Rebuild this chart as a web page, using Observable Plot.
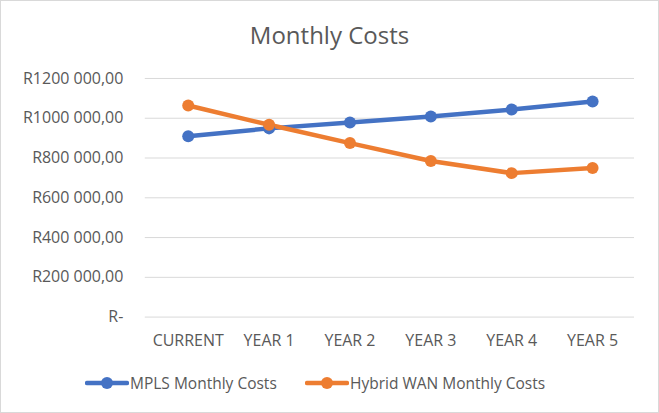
<!DOCTYPE html>
<html><head><meta charset="utf-8">
<script src="https://cdn.jsdelivr.net/npm/d3@7"></script>
<script src="https://cdn.jsdelivr.net/npm/@observablehq/plot@0.6"></script>
<style>
body{margin:0;background:#fff;}
#frame{position:relative;width:657px;height:411px;border:1px solid #d9d9d9;font-family:"Open Sans",sans-serif;color:#595959;overflow:hidden;}
#title{position:absolute;top:0;left:0;width:657px;text-align:center;font-size:24px;line-height:28px;padding-top:20px;}
#chart{position:absolute;top:61px;left:-1px;}
#legend{position:absolute;top:371px;left:0;width:657px;font-size:15.5px;}
.item{position:absolute;display:flex;align-items:center;white-space:nowrap;}
</style></head>
<body>
<div id="frame">
<div id="title">Monthly Costs</div>
<div id="chart"></div>
<div id="legend"></div>
</div>
<script>
const categories = ["CURRENT","YEAR 1","YEAR 2","YEAR 3","YEAR 4","YEAR 5"];
const mplsValues = [910000, 949000, 979000, 1009000, 1044000, 1084000];
const hybridValues = [1064000, 967000, 875000, 785000, 724000, 750000];
const seriesNames = ["MPLS Monthly Costs","Hybrid WAN Monthly Costs"];
const seriesColors = ["#4472C4","#ED7D31"];
const yTicks = [0,200000,400000,600000,800000,1000000,1200000];

const data = [];
categories.forEach((c,i)=>{
  data.push({cat:c, value:mplsValues[i], series:seriesNames[0]});
  data.push({cat:c, value:hybridValues[i], series:seriesNames[1]});
});

function fmt(v){
  if(v===0) return "R-";
  const th = Math.floor(v/1000), rest = v%1000;
  return "R" + th + " " + String(rest).padStart(3,"0") + ",00";
}

const plot = Plot.plot({
  width: 659,
  height: 290,
  marginTop: 16,
  marginBottom: 35,
  marginLeft: 145,
  marginRight: 24,
  style: {fontFamily: "'Open Sans', sans-serif", fontSize: "16px", color: "#595959", background: "transparent"},
  x: {type: "point", domain: categories, padding: 0.5, label: null},
  y: {domain: [0,1200000], label: null},
  color: {domain: seriesNames, range: seriesColors},
  marks: [
    Plot.gridY(yTicks, {stroke: "#d9d9d9", strokeOpacity: 1, strokeWidth: 1}),
    Plot.axisX({tickSize: 0, tickPadding: 18, label: null, fontSize: 16}),
    Plot.axisY({ticks: yTicks, tickFormat: fmt, tickSize: 0, tickPadding: 22, label: null, fontSize: 16}),
    Plot.line(data, {x: "cat", y: "value", z: "series", stroke: "series", strokeWidth: 4.5, strokeLinecap: "round", strokeLinejoin: "round"}),
    Plot.dot(data, {x: "cat", y: "value", fill: "series", r: 6})
  ]
});
document.getElementById("chart").appendChild(plot);

const legend = document.getElementById("legend");
const lefts = [84, 304];
seriesNames.forEach((name,i)=>{
  const d = document.createElement("div");
  d.className = "item";
  d.style.left = lefts[i] + "px";
  d.innerHTML = `<svg width="44" height="20"><line x1="2" y1="10" x2="42" y2="10" stroke="${seriesColors[i]}" stroke-width="4.5" stroke-linecap="round"/><circle cx="22" cy="10" r="6" fill="${seriesColors[i]}"/></svg><span style="margin-left:1px">${name}</span>`;
  legend.appendChild(d);
});
</script>
</body></html>
